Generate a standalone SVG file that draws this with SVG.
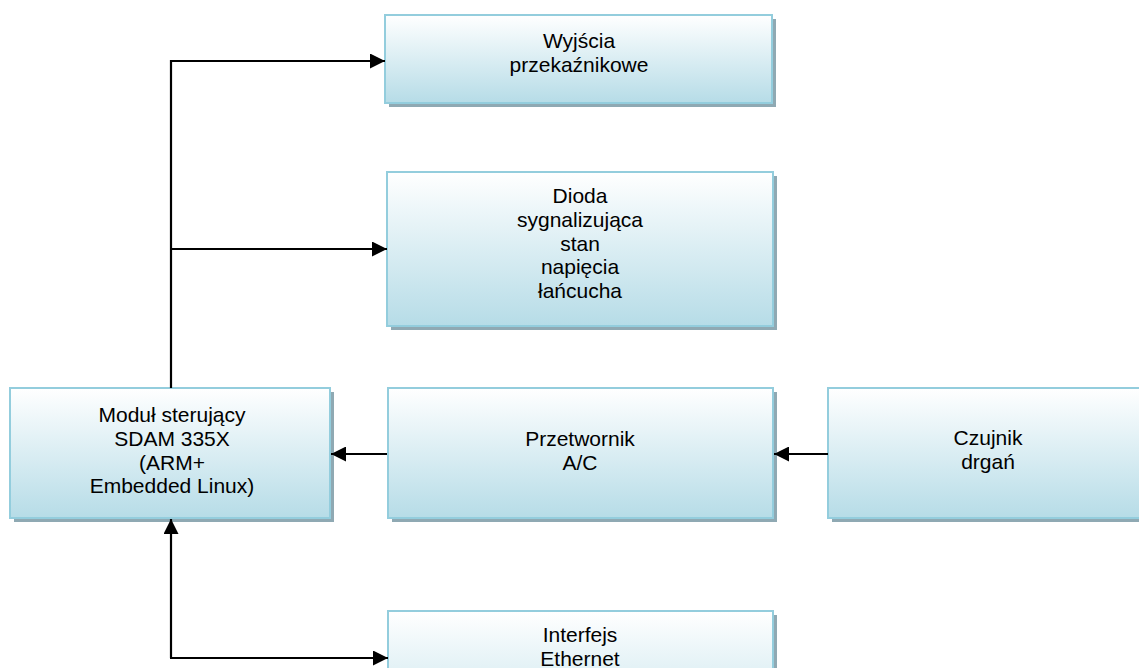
<svg xmlns="http://www.w3.org/2000/svg" width="1139" height="668" viewBox="0 0 1139 668">
<style>
.box{fill:url(#g);stroke:#93cddd;stroke-width:2}
.sh{fill:#8fa9b3}
.t{font-family:"Liberation Sans",Arial,sans-serif;font-size:21px;fill:#000;text-anchor:middle}
.c{fill:none;stroke:#000;stroke-width:2.2}
</style>
<defs>
<linearGradient id="g" x1="0" y1="0" x2="0" y2="1">
<stop offset="0" stop-color="#ffffff"/>
<stop offset="1" stop-color="#b6dce7"/>
</linearGradient>
<marker id="a" viewBox="0 0 10 10" refX="10" refY="5" markerUnits="userSpaceOnUse" markerWidth="15" markerHeight="15" orient="auto">
<path d="M0,0 L10,5 L0,10 z" fill="#000"/>
</marker>
</defs>
<rect width="1139" height="668" fill="#fff"/>
<g id="wyjscia">
<rect class="sh" x="389" y="19" width="387" height="88"/>
<rect class="box" x="385" y="15" width="387" height="88"/>
<text class="t" x="579" y="48">Wyjścia</text>
<text class="t" x="579" y="72">przekaźnikowe</text>
</g>
<g id="dioda">
<rect class="sh" x="391" y="176" width="386" height="154"/>
<rect class="box" x="387" y="172" width="386" height="154"/>
<text class="t" x="580" y="203">Dioda</text>
<text class="t" x="580" y="227">sygnalizująca</text>
<text class="t" x="580" y="251">stan</text>
<text class="t" x="580" y="274">napięcia</text>
<text class="t" x="580" y="298">łańcucha</text>
</g>
<g id="modul">
<rect class="sh" x="14" y="392" width="320" height="130"/>
<rect class="box" x="10" y="388" width="320" height="130"/>
<text class="t" x="172" y="422">Moduł sterujący</text>
<text class="t" x="172" y="446">SDAM 335X</text>
<text class="t" x="172" y="470">(ARM+</text>
<text class="t" x="172" y="493">Embedded Linux)</text>
</g>
<g id="przetwornik">
<rect class="sh" x="392" y="392" width="385" height="130"/>
<rect class="box" x="388" y="388" width="385" height="130"/>
<text class="t" x="580" y="446">Przetwornik</text>
<text class="t" x="580" y="470">A/C</text>
</g>
<g id="czujnik">
<rect class="sh" x="832" y="392" width="320" height="130"/>
<rect class="box" x="828" y="388" width="320" height="130"/>
<text class="t" x="988" y="445">Czujnik</text>
<text class="t" x="988" y="469">drgań</text>
</g>
<g id="ethernet">
<rect class="sh" x="392" y="615" width="385" height="150"/>
<rect class="box" x="388" y="611" width="385" height="150"/>
<text class="t" x="580" y="642">Interfejs</text>
<text class="t" x="580" y="666">Ethernet</text>
</g>
<g id="connectors">
<path class="c" d="M171,388 V61 H385" marker-end="url(#a)"/>
<path class="c" d="M171,249 H387" marker-end="url(#a)"/>
<path class="c" d="M387,454 H331" marker-end="url(#a)"/>
<path class="c" d="M828,454 H774" marker-end="url(#a)"/>
<path class="c" d="M171,658 V519" marker-end="url(#a)"/>
<path class="c" d="M170,658 H388" marker-end="url(#a)"/>
</g>
</svg>
